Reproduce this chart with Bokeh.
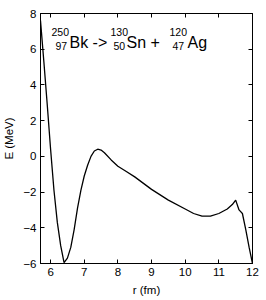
from bokeh.plotting import figure
from bokeh.models import LinearAxis, Range1d, Label, FixedTicker
from bokeh.embed import file_html
from bokeh.resources import INLINE

r_fm = [5.7, 5.8, 5.9, 6.0, 6.1, 6.2, 6.3, 6.4, 6.5, 6.6, 6.7, 6.8, 6.9, 7.0,
        7.1, 7.2, 7.3, 7.4, 7.5, 7.6, 7.8, 8.0, 8.25, 8.5, 9.0, 9.5, 10.0,
        10.25, 10.5, 10.75, 11.0, 11.25, 11.4, 11.5, 11.6, 11.7, 11.8, 11.9, 12.0]
E_mev = [7.6, 5.3, 2.9, 0.4, -1.9, -3.7, -5.0, -5.95, -5.7, -5.1, -4.1, -2.9,
         -1.9, -1.1, -0.5, 0.0, 0.3, 0.4, 0.35, 0.2, -0.2, -0.55, -0.85, -1.15,
         -1.85, -2.45, -2.95, -3.2, -3.35, -3.35, -3.2, -2.95, -2.7, -2.45,
         -3.0, -3.2, -4.1, -5.1, -6.0]

x_ticks = [6, 7, 8, 9, 10, 11, 12]
y_ticks = [-6, -4, -2, 0, 2, 4, 6, 8]
y_tick_labels = ["\u22126", "\u22124", "\u22122", "0", "2", "4", "6", "8"]

FONT = "Liberation Sans"

p = figure(width=266, height=300, output_backend="svg", toolbar_location=None,
           x_range=Range1d(5.7, 12), y_range=Range1d(-6, 8),
           x_axis_label="r (fm)", y_axis_label="E (MeV)",
           min_border_left=36, min_border_right=14, min_border_top=13,
           min_border_bottom=37)
p.grid.visible = False
p.outline_line_color = "black"
p.background_fill_color = "white"
p.border_fill_color = "white"

p.line(r_fm, E_mev, line_color="black", line_width=1.3)

for ax in [p.xaxis[0], p.yaxis[0]]:
    ax.major_tick_in = 4
    ax.major_tick_out = 0
    ax.minor_tick_line_color = None
    ax.axis_line_color = "black"
    ax.major_tick_line_color = "black"
    ax.major_label_text_font = FONT
    ax.major_label_text_font_size = "11.5px"
    ax.major_label_text_color = "black"
    ax.axis_label_text_font = FONT
    ax.axis_label_text_font_size = "11.5px"
    ax.axis_label_text_font_style = "normal"
    ax.axis_label_text_color = "black"

p.xaxis[0].ticker = FixedTicker(ticks=x_ticks)
p.yaxis[0].ticker = FixedTicker(ticks=y_ticks)
p.yaxis[0].major_label_overrides = {v: s for v, s in zip(y_ticks, y_tick_labels)}
p.xaxis[0].major_label_standoff = 4
p.xaxis[0].axis_label_standoff = 5
p.yaxis[0].major_label_standoff = 4
p.yaxis[0].axis_label_standoff = 5

top = LinearAxis(ticker=FixedTicker(ticks=x_ticks))
right = LinearAxis(ticker=FixedTicker(ticks=y_ticks))
for ax in [top, right]:
    ax.major_tick_in = 4
    ax.major_tick_out = 0
    ax.minor_tick_line_color = None
    ax.major_label_text_color = None
    ax.major_label_text_font_size = "1px"
    ax.major_label_standoff = 0
    ax.axis_line_color = "black"
    ax.major_tick_line_color = "black"
p.add_layout(top, "above")
p.add_layout(right, "right")

# reaction label pieces (screen coords relative to plot frame: left 36, bottom 263 on page)
def lab(text, px, py, size):
    p.add_layout(Label(x=px - 36, y=263 - py, x_units="screen", y_units="screen",
                       text=text, text_font=FONT, text_font_size=size,
                       text_color="black", text_baseline="alphabetic",
                       text_align="left"))

lab("250", 47, 31, "10.5px")
lab("97", 51, 45, "10.5px")
lab("Bk ->", 65, 42, "16px")
lab("130", 106, 31, "10.5px")
lab("50", 109, 45, "10.5px")
lab("Sn +", 122, 42, "16px")
lab("120", 165, 31, "10.5px")
lab("47", 168, 45, "10.5px")
lab("Ag", 183, 42, "16px")

open("out.html", "w").write(file_html(p, INLINE))
